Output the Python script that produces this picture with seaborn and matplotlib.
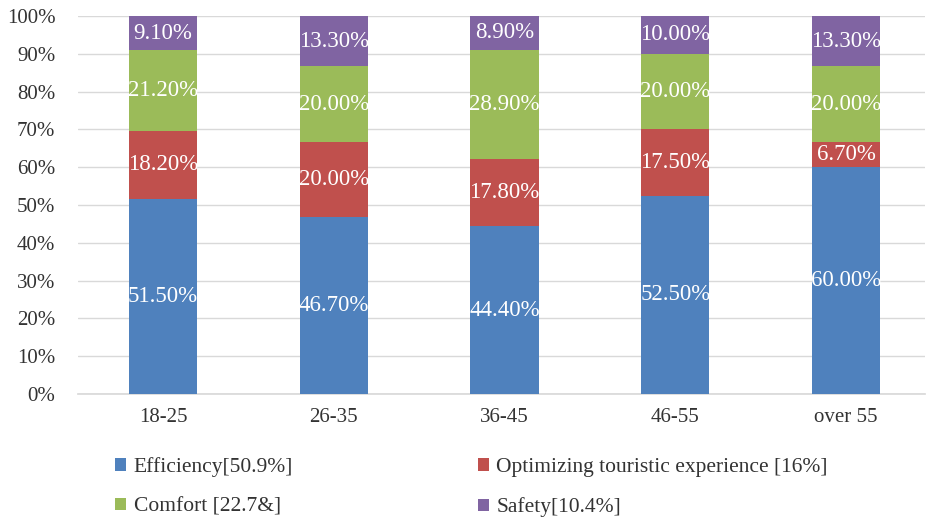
import matplotlib
matplotlib.use("Agg")
import matplotlib.pyplot as plt
from matplotlib.patches import Patch
import numpy as np
import pandas as pd
import seaborn as sns

# Age groups and share of each preferred attribute (%)
age_groups = ["18-25", "26-35", "36-45", "46-55", "over 55"]
efficiency = [51.5, 46.7, 44.4, 52.5, 60.0]
touristic = [18.2, 20.0, 17.8, 17.5, 6.7]
comfort = [21.2, 20.0, 28.9, 20.0, 20.0]
safety = [9.1, 13.3, 8.9, 10.0, 13.3]

series_names = ["Efficiency[50.9%]", "Optimizing touristic experience [16%]",
                "Comfort [22.7&]", "Safety[10.4%]"]
series_values = [efficiency, touristic, comfort, safety]
colors = ["#4F81BD", "#C0504D", "#9BBB59", "#8064A2"]

sns.set_theme(style="white")
plt.rcParams["font.family"] = ["Liberation Serif", "DejaVu Serif"]

fig = plt.figure(figsize=(9.28, 5.2), dpi=100)
ax = fig.add_axes([77.6 / 928, 126 / 520, (925 - 77.6) / 928, (394 - 16) / 520])

# Stacked bars: draw cumulative totals from the top layer down
vals = np.array(series_values)
cum = np.cumsum(vals, axis=0)
for i in range(len(series_values) - 1, -1, -1):
    df = pd.DataFrame({"age": age_groups, "value": cum[i]})
    sns.barplot(data=df, x="age", y="value", color=colors[i], width=0.4,
                saturation=1, ax=ax, zorder=3, linewidth=0)

# Segment labels
for i in range(len(series_values)):
    for j, v in enumerate(vals[i]):
        center = cum[i][j] - v / 2
        ax.text(j, center, f"{v:.2f}%", ha="center", va="center",
                color="white", fontsize=16.5, zorder=4)

ax.set_xlim(-0.5, -0.5 + (925 - 77.6) / 170.75)
ax.set_ylim(0, 100)
ax.set_yticks(np.arange(0, 101, 10))
ax.set_yticklabels([f"{t}%" for t in range(0, 101, 10)])
ax.set_xlabel("")
ax.set_ylabel("")
ax.yaxis.grid(True, color="#D9D9D9", linewidth=1, zorder=0)
ax.set_axisbelow(True)
for s in ["top", "right", "left"]:
    ax.spines[s].set_visible(False)
ax.spines["bottom"].set_color("#D9D9D9")
ax.tick_params(axis="both", length=0, labelsize=15, colors="#333333")
ax.tick_params(axis="y", pad=16)
ax.tick_params(axis="x", pad=10)

handles = [Patch(facecolor=colors[k], edgecolor="none") for k in [0, 2, 1, 3]]
labels = [series_names[k] for k in [0, 2, 1, 3]]
fig.legend(handles, labels, ncol=2, loc="upper left",
           bbox_to_anchor=(98 / 928, 1 - 440 / 520), frameon=False,
           fontsize=15.5, handlelength=0.5, handleheight=0.5, handletextpad=0.35,
           columnspacing=8.6, labelspacing=0.95, labelcolor="#333333",
           borderpad=0.3)

fig.savefig("out.png", dpi=100)
